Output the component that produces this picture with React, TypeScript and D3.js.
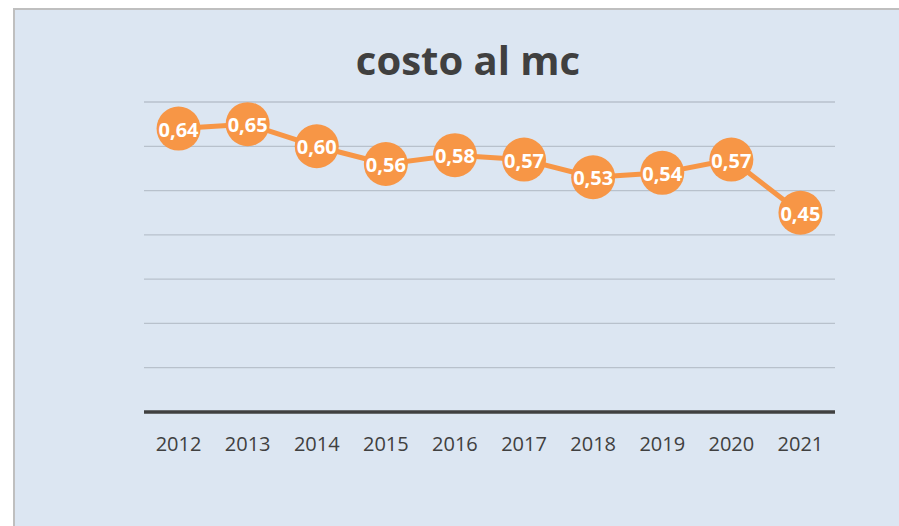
import React from "react";
import * as d3 from "d3";

const years = ["2012", "2013", "2014", "2015", "2016", "2017", "2018", "2019", "2020", "2021"];
const costs = [0.64, 0.65, 0.6, 0.56, 0.58, 0.57, 0.53, 0.54, 0.57, 0.45];
const gridValues = [0.1, 0.2, 0.3, 0.4, 0.5, 0.6, 0.7];
const title = "costo al mc";

const W = 899;
const H = 526;
const plot = { left: 144, right: 835, top: 102, bottom: 412 };

const App = () => {
  const x = d3.scaleBand().domain(years).range([plot.left, plot.right]);
  const y = d3.scaleLinear().domain([0, 0.7]).range([plot.bottom, plot.top]);
  const cx = (d: string) => (x(d) as number) + x.bandwidth() / 2;

  const line = d3
    .line<number>()
    .x((_, i) => cx(years[i]))
    .y((d) => y(d));

  const fmt = (v: number) => v.toFixed(2).replace(".", ",");

  return (
    <svg
      width={W}
      height={H}
      style={{ position: "absolute", left: 0, top: 0, display: "block" }}
    >
      <rect x={0} y={0} width={W} height={H} fill="#ffffff" />
      <rect x={14} y={9} width={W + 20} height={H + 20} fill="#dce6f2" stroke="#bfbfbf" strokeWidth={2} />

      <text
        x={468}
        y={75}
        textAnchor="middle"
        fontFamily="'Open Sans', sans-serif"
        fontWeight="bold"
        fontSize={40}
        fill="#404040"
      >
        {title}
      </text>

      {gridValues.map((g) => (
        <line key={g} x1={plot.left} x2={plot.right} y1={y(g)} y2={y(g)} stroke="#b8c1cc" strokeWidth={1.3} />
      ))}
      <line x1={plot.left} x2={plot.right} y1={y(0)} y2={y(0)} stroke="#404040" strokeWidth={3.5} />

      {years.map((yr) => (
        <text
          key={yr}
          x={cx(yr)}
          y={451}
          textAnchor="middle"
          fontFamily="'Open Sans', sans-serif"
          fontSize={20}
          fill="#404040"
        >
          {yr}
        </text>
      ))}

      <path d={line(costs) || ""} fill="none" stroke="#f79646" strokeWidth={5} strokeLinejoin="round" />

      {costs.map((v, i) => (
        <g key={years[i]}>
          <circle cx={cx(years[i])} cy={y(v)} r={22} fill="#f79646" />
          <text
            x={cx(years[i])}
            y={y(v) + 8}
            textAnchor="middle"
            fontFamily="'Open Sans', sans-serif"
            fontWeight="bold"
            fontSize={20}
            fill="#ffffff"
          >
            {fmt(v)}
          </text>
        </g>
      ))}
    </svg>
  );
};

export default App;
